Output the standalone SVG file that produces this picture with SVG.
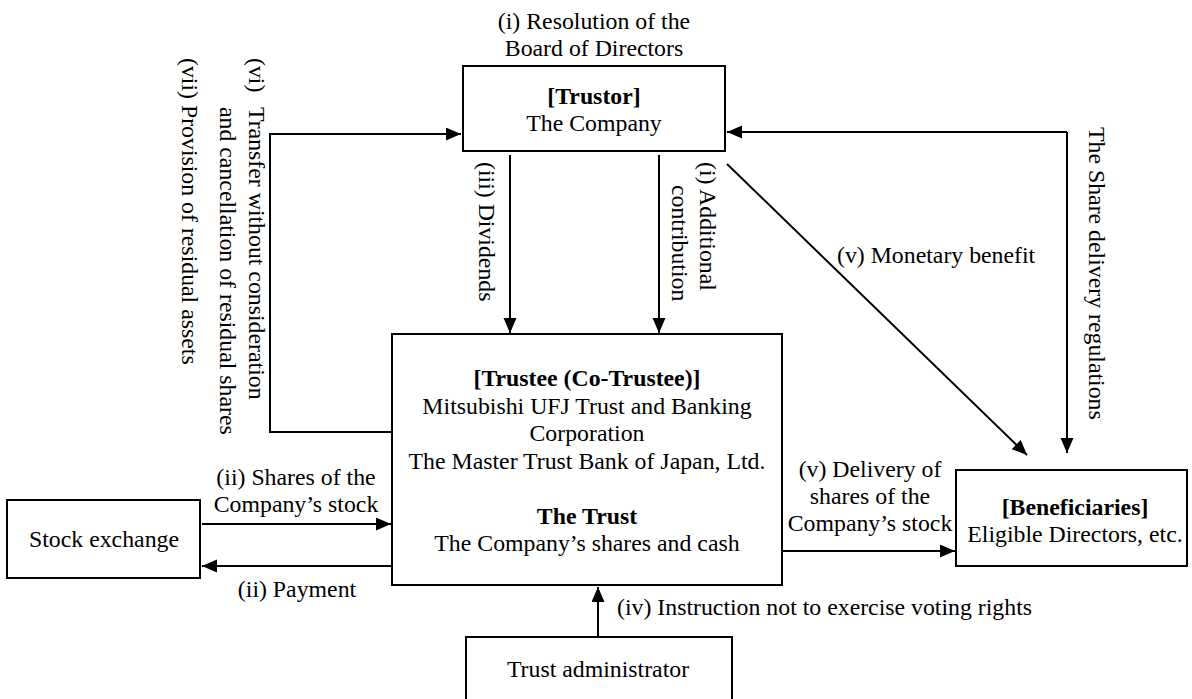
<svg xmlns="http://www.w3.org/2000/svg" width="1192" height="699" viewBox="0 0 1192 699">
<style>
text{font-family:"Liberation Serif","Times New Roman",serif;font-size:23.8px;fill:#000}
.c{text-anchor:middle}
.b{font-weight:bold}
.box{fill:#fff;stroke:#000;stroke-width:2}
.ln{fill:none;stroke:#000;stroke-width:2}
</style>
<defs>
<marker id="ah" markerUnits="userSpaceOnUse" markerWidth="16" markerHeight="14" refX="15" refY="6.5" orient="auto">
<path d="M0,0 L15,6.5 L0,13 z" fill="#000"/>
</marker>
</defs>
<rect width="1192" height="699" fill="#fff"/>
<g id="connectors">
<path class="ln" d="M391,432 H270 V134 H461" marker-end="url(#ah)"/>
<path class="ln" d="M1067,132 H727" marker-end="url(#ah)"/>
<path class="ln" d="M1067,132 V453" marker-end="url(#ah)"/>
<path class="ln" d="M510,155 V333" marker-end="url(#ah)"/>
<path class="ln" d="M659,155 V333" marker-end="url(#ah)"/>
<path class="ln" d="M727,164 L1027,455" marker-end="url(#ah)"/>
<path class="ln" d="M202,524 H391" marker-end="url(#ah)"/>
<path class="ln" d="M391,566 H202" marker-end="url(#ah)"/>
<path class="ln" d="M782,551 H955" marker-end="url(#ah)"/>
<path class="ln" d="M598,637 V587" marker-end="url(#ah)"/>
<text class="c" x="594" y="29">(i) Resolution of the</text>
<text class="c" x="594" y="56">Board of Directors</text>
<text transform="translate(249,58) rotate(90)"><tspan x="0">(vi)</tspan><tspan x="49">Transfer without consideration</tspan></text>
<text transform="translate(220,107) rotate(90)">and cancellation of residual shares</text>
<text transform="translate(182,58) rotate(90)">(vii) Provision of residual assets</text>
<text transform="translate(479,162) rotate(90)">(iii) Dividends</text>
<text transform="translate(700,162) rotate(90)">(i) Additional</text>
<text transform="translate(672,185) rotate(90)">contribution</text>
<text transform="translate(1089,127) rotate(90)">The Share delivery regulations</text>
<text x="837" y="263">(v) Monetary benefit</text>
<text class="c" x="296" y="485">(ii) Shares of the</text>
<text class="c" x="296" y="512">Company’s stock</text>
<text class="c" x="297" y="597">(ii) Payment</text>
<text class="c" x="870" y="477">(v) Delivery of</text>
<text class="c" x="870" y="504">shares of the</text>
<text class="c" x="870" y="531">Company’s stock</text>
<text x="617" y="615">(iv) Instruction not to exercise voting rights</text>
</g>
<g id="trustor">
<rect class="box" x="463" y="66" width="262" height="85"/>
<text class="c b" x="594" y="104">[Trustor]</text>
<text class="c" x="594" y="131">The Company</text>
</g>
<g id="trustee">
<rect class="box" x="392" y="334" width="390" height="251"/>
<text class="c b" x="587" y="386">[Trustee (Co-Trustee)]</text>
<text class="c" x="587" y="413.5">Mitsubishi UFJ Trust and Banking</text>
<text class="c" x="587" y="441">Corporation</text>
<text class="c" x="587" y="468.5">The Master Trust Bank of Japan, Ltd.</text>
<text class="c b" x="587" y="523.5">The Trust</text>
<text class="c" x="587" y="551">The Company’s shares and cash</text>
</g>
<g id="stock-exchange">
<rect class="box" x="7" y="500" width="193" height="78"/>
<text class="c" x="104" y="547">Stock exchange</text>
</g>
<g id="beneficiaries">
<rect class="box" x="956" y="470" width="231" height="96"/>
<text class="c b" x="1075" y="515">[Beneficiaries]</text>
<text class="c" x="1075" y="542">Eligible Directors, etc.</text>
</g>
<g id="trust-administrator">
<rect class="box" x="466" y="637" width="266" height="70"/>
<text class="c" x="598" y="677">Trust administrator</text>
</g>
</svg>
